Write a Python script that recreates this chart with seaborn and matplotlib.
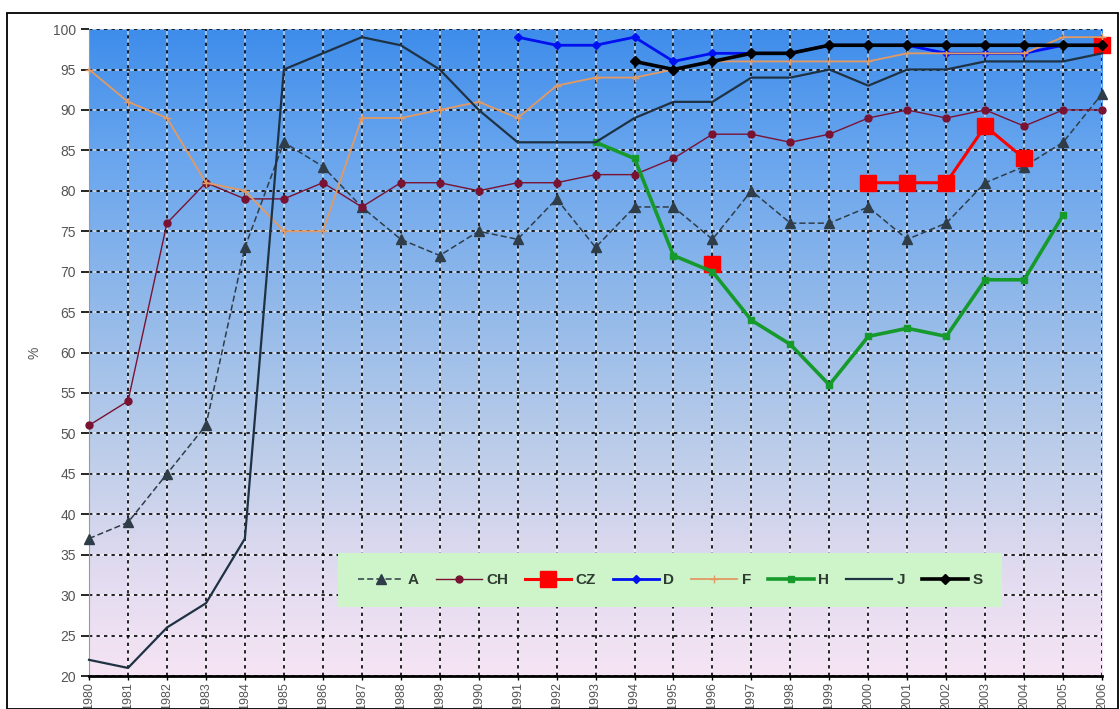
import seaborn as sns
import matplotlib.pyplot as plt
import numpy as np
import pandas as pd
from matplotlib.lines import Line2D
from matplotlib.patches import Rectangle
from matplotlib.colors import LinearSegmentedColormap

nan = np.nan
years = list(range(1980, 2007))

A = [37, 39, 45, 51, 73, 86, 83, 78, 74, 72, 75, 74, 79, 73, 78, 78, 74, 80, 76, 76, 78, 74, 76, 81, 83, 86, 92]
CH = [51, 54, 76, 81, 79, 79, 81, 78, 81, 81, 80, 81, 81, 82, 82, 84, 87, 87, 86, 87, 89, 90, 89, 90, 88, 90, 90]
CZ = [nan] * 16 + [71, nan, nan, nan, 81, 81, 81, 88, 84, nan, 98]
D = [nan] * 11 + [99, 98, 98, 99, 96, 97, 97, 97, 98, 98, 98, 97, 97, 97, 98, 98]
F = [95, 91, 89, 81, 80, 75, 75, 89, 89, 90, 91, 89, 93, 94, 94, 95, 96, 96, 96, 96, 96, 97, 97, 97, 97, 99, 99]
H = [nan] * 13 + [86, 84, 72, 70, 64, 61, 56, 62, 63, 62, 69, 69, 77, nan]
J = [22, 21, 26, 29, 37, 95, 97, 99, 98, 95, 90, 86, 86, 86, 89, 91, 91, 94, 94, 95, 93, 95, 95, 96, 96, 96, 97]
S = [nan] * 14 + [96, 95, 96, 97, 97, 98, 98, 98, 98, 98, 98, 98, 98]

series = {"A": A, "CH": CH, "CZ": CZ, "D": D, "F": F, "H": H, "J": J, "S": S}

styles = {
    "A": dict(color="#2f3d48", lw=1.1, ls=(0, (4, 2)), marker="^", ms=7),
    "CH": dict(color="#7a1232", lw=1.0, ls="-", marker="o", ms=5),
    "CZ": dict(color="#ff0000", lw=2.2, ls="-", marker="s", ms=11),
    "D": dict(color="#0010f0", lw=2.0, ls="-", marker="D", ms=4),
    "F": dict(color="#e39a62", lw=1.3, ls="-", marker="+", ms=6),
    "H": dict(color="#169a2c", lw=2.6, ls="-", marker="s", ms=5),
    "J": dict(color="#1f3244", lw=1.6, ls="-", marker="", ms=0),
    "S": dict(color="#000000", lw=2.6, ls="-", marker="D", ms=5),
}

# long table, one unit per unbroken run of values
rows = []
for name, vals in series.items():
    seg = 0
    for yr, v in zip(years, vals):
        if np.isnan(v):
            seg += 1
            continue
        rows.append((name, yr, v, seg))
df = pd.DataFrame(rows, columns=["series", "year", "value", "seg"])

plt.rcParams["font.family"] = ["Liberation Sans", "DejaVu Sans"]
fig = plt.figure(figsize=(11.2, 7.09), dpi=100)
ax = fig.add_axes([0.0795, 0.0465, 0.9045, 0.9125])

# background gradient
cmap = LinearSegmentedColormap.from_list("bg", [
    (0.0, "#f5e4f4"), (0.15, "#e3dcf0"), (0.35, "#bccde9"),
    (0.55, "#96bbe9"), (0.8, "#6aa6ee"), (1.0, "#3e8deb")])
grad = np.linspace(0, 1, 256).reshape(-1, 1)
ax.imshow(grad, cmap=cmap, origin="lower", aspect="auto",
          extent=[1980, 2006, 20, 100], zorder=0)

yticks = list(range(20, 101, 5))
ax.vlines(years, 20, 100, colors="white", lw=1.1, alpha=0.6, zorder=0.5)
ax.hlines(yticks, 1980, 2006, colors="white", lw=1.1, alpha=0.6, zorder=0.5)
ax.vlines(years, 20, 100, colors="black", lw=1.2, linestyles=(0, (2, 2.5)), zorder=0.6)
ax.hlines(yticks, 1980, 2006, colors="black", lw=1.2, linestyles=(0, (2, 2.5)), zorder=0.6)

for name in series:
    st = styles[name]
    sub = df[df.series == name]
    sns.lineplot(data=sub, x="year", y="value", units="seg", estimator=None,
                 color=st["color"], linewidth=st["lw"], linestyle=st["ls"],
                 marker=st["marker"] if st["marker"] else None, markersize=st["ms"],
                 markeredgecolor=st["color"], markerfacecolor=st["color"],
                 markeredgewidth=1.0, clip_on=False, legend=False, ax=ax, zorder=3)

ax.set_xlim(1980, 2006)
ax.set_ylim(20, 100)
ax.set_xticks(years)
ax.set_xticklabels([str(y) for y in years], rotation=90)
ax.set_yticks(yticks)
ax.tick_params(axis="y", labelsize=10, labelcolor="#555555", color="black",
               length=6, width=1.2)
ax.tick_params(axis="x", labelsize=9, labelcolor="#555555", color="black",
               length=3, width=1, pad=1.5)
ax.set_xlabel("")
ax.set_ylabel("%", fontsize=10, color="#555555", labelpad=8)
for s in ["top", "right"]:
    ax.spines[s].set_visible(False)
ax.spines["left"].set_color("#999999")
ax.spines["bottom"].set_color("black")
ax.spines["bottom"].set_linewidth(2)

handles = []
for name in series:
    st = styles[name]
    handles.append(Line2D([], [], color=st["color"], lw=st["lw"], ls=st["ls"],
                          marker=st["marker"] if st["marker"] else None,
                          ms=st["ms"], mec=st["color"], mfc=st["color"], label=name))
leg = ax.legend(handles=handles, ncol=8, loc="center", mode="expand",
                bbox_to_anchor=(0.238, 0.099, 0.671, 0.098),
                frameon=True, fancybox=False, facecolor="#cdf5c9", edgecolor="none",
                framealpha=1, handlelength=3.0, handletextpad=0.3, columnspacing=1.0,
                borderpad=1.3, prop={"size": 11, "weight": "bold"})
for t in leg.get_texts():
    t.set_color("#2e3b30")
leg.set_zorder(5)

fig.patches.append(Rectangle((7 / 1120, 0.5 / 709), 1111 / 1120, 695.5 / 709,
                             transform=fig.transFigure, fill=False,
                             edgecolor="black", lw=1.3))

fig.savefig("out.png", dpi=100)
